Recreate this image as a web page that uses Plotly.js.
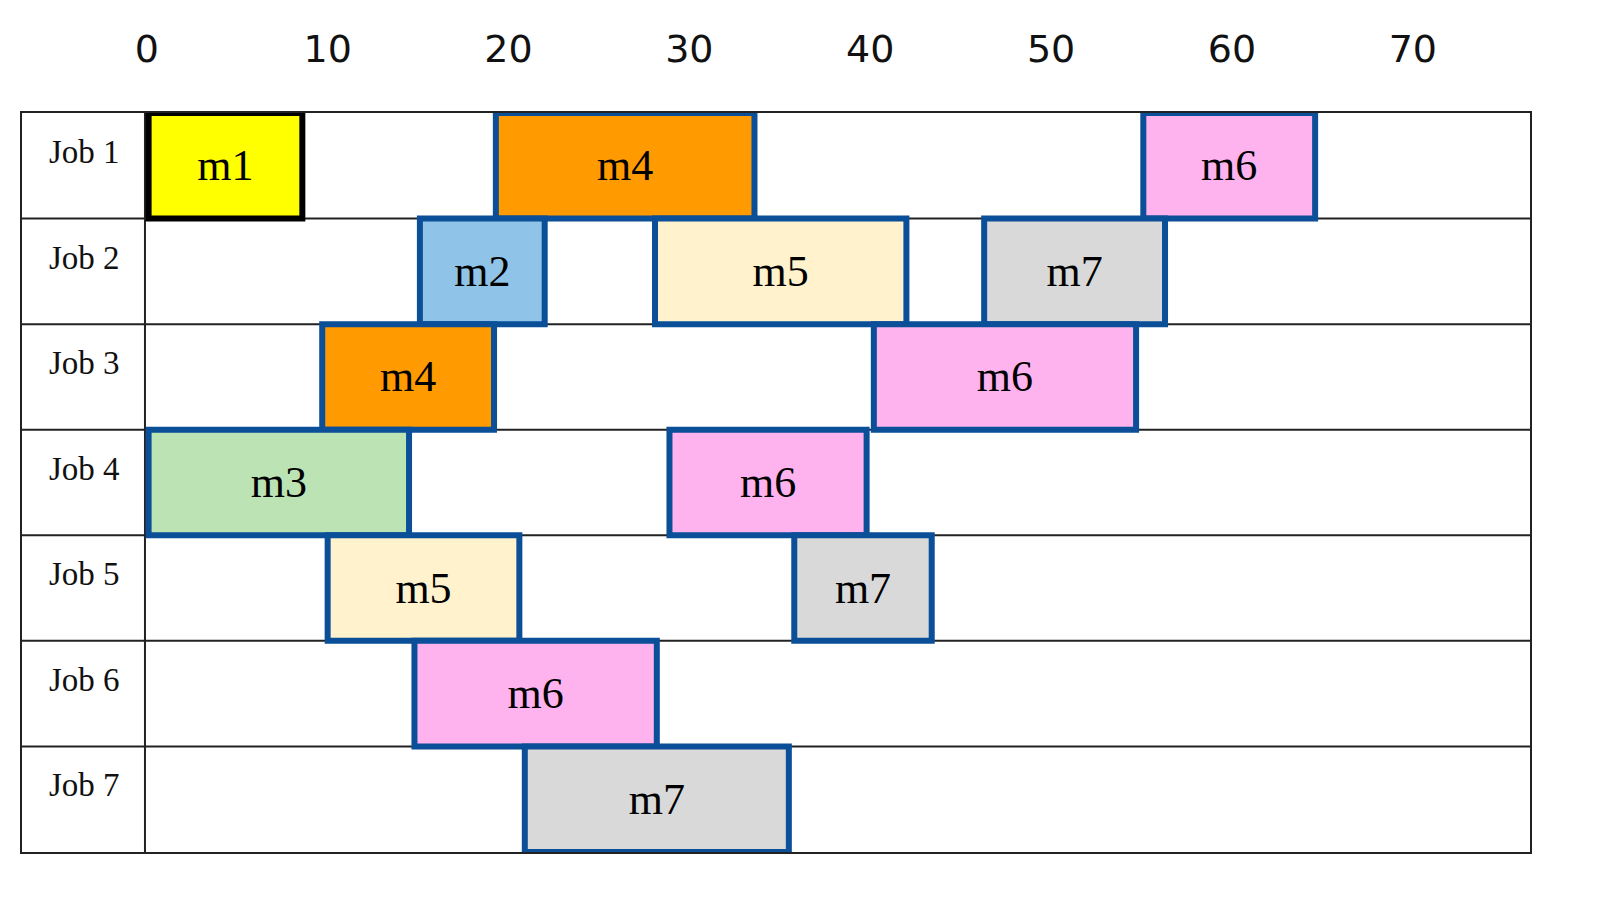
<!DOCTYPE html>
<html>
<head>
<meta charset="utf-8">
<script src="https://cdn.plot.ly/plotly-3.0.1.min.js"></script>
<style>html,body{margin:0;padding:0;background:#fff;}#chart{width:1620px;height:909px;}</style>
</head>
<body>
<div id="chart"></div>
<script>
// ---- data ----
const jobs = ['Job 1', 'Job 2', 'Job 3', 'Job 4', 'Job 5', 'Job 6', 'Job 7'];
const opJob = ['Job 1', 'Job 1', 'Job 1', 'Job 2', 'Job 2', 'Job 2', 'Job 3', 'Job 3', 'Job 4', 'Job 4', 'Job 5', 'Job 5', 'Job 6', 'Job 7'];
const opMachine = ['m1', 'm4', 'm6', 'm2', 'm5', 'm7', 'm4', 'm6', 'm3', 'm6', 'm5', 'm7', 'm6', 'm7'];
const opStart = [0.1, 19.3, 55.1, 15.1, 28.1, 46.3, 9.7, 40.2, 0.1, 28.9, 10.0, 35.8, 14.8, 20.9];
const opEnd   = [8.6, 33.6, 64.6, 22.0, 42.0, 56.3, 19.2, 54.7, 14.5, 39.8, 20.6, 43.4, 28.2, 35.5];
const tickValues = [0, 10, 20, 30, 40, 50, 60, 70];

// ---- styles ----
const machineColors = {
  m1: '#ffff00', m2: '#8fc3e8', m3: '#bce3b4', m4: '#ff9a00',
  m5: '#fff2cd', m6: '#ffb3ee', m7: '#d9d9d9'
};
const borderBlue = '#0a4f98';

const trace = {
  type: 'bar',
  orientation: 'h',
  y: opJob,
  base: opStart,
  x: opStart.map((s, i) => opEnd[i] - s),
  width: 1,
  text: opMachine,
  textposition: 'inside',
  insidetextanchor: 'middle',
  textangle: 0,
  constraintext: 'none',
  cliponaxis: false,
  textfont: { family: 'Liberation Serif, Times New Roman, serif', size: 44, color: '#000' },
  marker: {
    color: opMachine.map(m => machineColors[m]),
    line: { color: opMachine.map(m => m === 'm1' ? '#000000' : borderBlue), width: 6 }
  },
  hoverinfo: 'skip',
  showlegend: false
};

const shapes = [];
for (let i = 1; i < jobs.length; i++) {
  shapes.push({ type: 'line', layer: 'below', xref: 'paper', x0: 0, x1: 1, yref: 'y', y0: i - 0.5, y1: i - 0.5,
    line: { color: '#222', width: 2 } });
}
shapes.push({ type: 'line', layer: 'below', xref: 'x', x0: -0.1, x1: -0.1, yref: 'paper', y0: 0, y1: 1,
  line: { color: '#222', width: 2 } });

const annotations = jobs.map((j, i) => ({
  xref: 'x', yref: 'y', x: -3.45, y: i - 0.13, text: j, showarrow: false,
  font: { family: 'Liberation Serif, Times New Roman, serif', size: 33, color: '#111' }
}));

const layout = {
  width: 1620, height: 909,
  margin: { l: 22, r: 90, t: 113, b: 57, pad: 0 },
  paper_bgcolor: '#fff', plot_bgcolor: '#fff',
  barmode: 'overlay',
  xaxis: {
    range: [-6.9, 76.48], side: 'top', tickmode: 'array', tickvals: tickValues,
    ticktext: tickValues.map(String),
    showgrid: false, zeroline: false, ticks: '', ticklabelstandoff: 34,
    showline: true, mirror: true, linecolor: '#222', linewidth: 2,
    tickfont: { family: 'DejaVu Sans, sans-serif', size: 38, color: '#111' },
    fixedrange: true
  },
  yaxis: {
    type: 'category', categoryorder: 'array', categoryarray: jobs,
    range: [6.5, -0.5], showticklabels: false, showgrid: false, zeroline: false, ticks: '',
    showline: true, mirror: true, linecolor: '#222', linewidth: 2, fixedrange: true
  },
  shapes: shapes,
  annotations: annotations
};

Plotly.newPlot('chart', [trace], layout, { displayModeBar: false, staticPlot: true });
</script>
</body>
</html>
